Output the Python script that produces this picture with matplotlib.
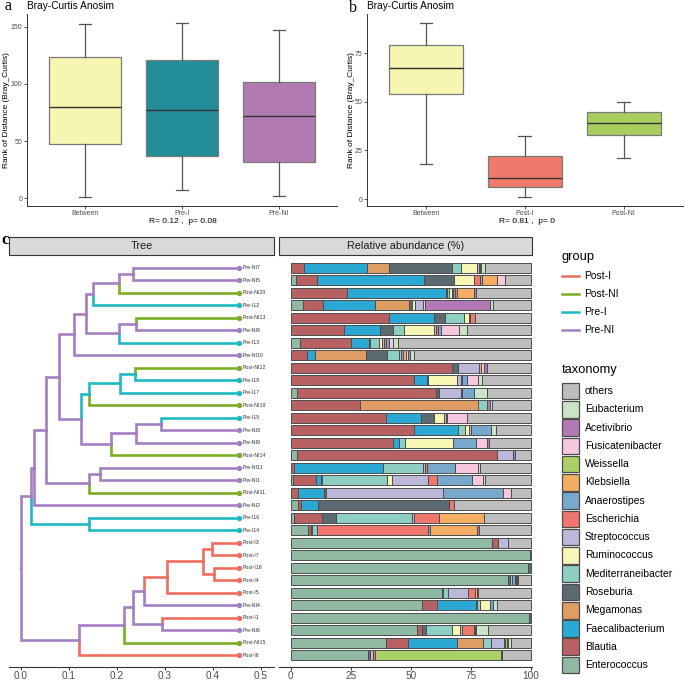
import matplotlib
matplotlib.use("Agg")
import matplotlib.pyplot as plt
import matplotlib.patches as patches
import numpy as np

plt.rcParams['font.family'] = ['Liberation Sans', 'DejaVu Sans']

W, H = 685, 681

# ---------------- panel a / b : ANOSIM boxes ----------------
a_labels = ['Between', 'Pre-I', 'Pre-NI']
a_low = [0.9, 7.0, 1.7]
a_q1 = [47.4, 37.2, 31.7]
a_med = [80.2, 77.3, 72.1]
a_q3 = [123.8, 121.2, 101.7]
a_high = [152.3, 153.5, 147.4]
a_colors = ['#F6F5B2', '#238E9A', '#B17AB3']
a_yticks = [0, 50, 100, 150]
a_stat = 'R= 0.12 ,  p= 0.08'

b_labels = ['Between', 'Post-I', 'Post-NI']
b_low = [18.0, 0.9, 20.9]
b_q1 = [54.1, 6.0, 33.0]
b_med = [67.3, 10.8, 39.0]
b_q3 = [79.3, 22.1, 45.0]
b_high = [90.8, 32.2, 50.2]
b_colors = ['#F6F5B2', '#EF7A6C', '#A6CE5E']
b_yticks = [0, 25, 50, 75]
b_stat = 'R= 0.81 ,  p= 0'

# ---------------- panel c : tree ----------------
leaves = ['Pre-NI7', 'Pre-NI5', 'Post-NI20', 'Pre-I12', 'Post-NI13', 'Pre-NI8',
          'Pre-I13', 'Pre-NI10', 'Post-NI12', 'Pre-I18', 'Pre-I17', 'Post-NI19',
          'Pre-I15', 'Pre-NI3', 'Pre-NI9', 'Post-NI14', 'Pre-NI11', 'Pre-NI1',
          'Post-NI11', 'Pre-NI2', 'Pre-I16', 'Pre-I14', 'Post-I3', 'Post-I7',
          'Post-I18', 'Post-I4', 'Post-I5', 'Pre-NI4', 'Post-I1', 'Pre-NI6',
          'Post-NI15', 'Post-I6']
leaf_height = 0.455

# (node, child1, child2, height, branch group)
nodes = [
    ('A', 'Pre-NI7', 'Pre-NI5', 0.234, 'Pre-NI'),
    ('B', 'A', 'Post-NI20', 0.205, 'Pre-NI'),
    ('C', 'B', 'Pre-I12', 0.151, 'Pre-NI'),
    ('D', 'Post-NI13', 'Pre-NI8', 0.240, 'Pre-NI'),
    ('E', 'D', 'Pre-I13', 0.205, 'Pre-NI'),
    ('F', 'C', 'E', 0.136, 'Pre-NI'),
    ('G', 'F', 'Pre-NI10', 0.111, 'Pre-NI'),
    ('H', 'Post-NI12', 'Pre-I18', 0.238, 'Pre-I'),
    ('I', 'H', 'Pre-I17', 0.207, 'Pre-I'),
    ('J', 'I', 'Post-NI19', 0.143, 'Pre-I'),
    ('K', 'Pre-I15', 'Pre-NI3', 0.291, 'Pre-NI'),
    ('L', 'K', 'Pre-NI9', 0.240, 'Pre-NI'),
    ('M', 'L', 'Post-NI14', 0.187, 'Pre-NI'),
    ('N', 'J', 'M', 0.125, 'Pre-NI'),
    ('O', 'G', 'N', 0.079, 'Pre-NI'),
    ('P', 'Pre-NI11', 'Pre-NI1', 0.164, 'Pre-NI'),
    ('Q', 'P', 'Post-NI11', 0.143, 'Pre-NI'),
    ('R', 'O', 'Q', 0.052, 'Pre-NI'),
    ('S', 'R', 'Pre-NI2', 0.027, 'Pre-NI'),
    ('T', 'Pre-I16', 'Pre-I14', 0.143, 'Pre-I'),
    ('U', 'S', 'T', 0.0215, 'Pre-NI'),
    ('V', 'Post-I3', 'Post-I7', 0.399, 'Post-I'),
    ('X', 'Post-I18', 'Post-I4', 0.403, 'Post-I'),
    ('Y', 'V', 'X', 0.379, 'Post-I'),
    ('Z', 'Y', 'Post-I5', 0.304, 'Post-I'),
    ('Z2', 'Z', 'Pre-NI4', 0.257, 'Pre-NI'),
    ('AA', 'Post-I1', 'Pre-NI6', 0.295, 'Pre-NI'),
    ('BB', 'Z2', 'AA', 0.234, 'Pre-NI'),
    ('CC', 'BB', 'Post-NI15', 0.214, 'Pre-NI'),
    ('DD', 'CC', 'Post-I6', 0.121, 'Pre-NI'),
    ('root', 'U', 'DD', 0.0, 'Pre-NI'),
]

group_names = ['Post-I', 'Post-NI', 'Pre-I', 'Pre-NI']
group_colors = {'Post-I': '#EE6F5F', 'Post-NI': '#7BAE26',
                'Pre-I': '#1EB9C1', 'Pre-NI': '#A47EC1'}

# ---------------- panel c : relative abundance ----------------
stack_order = ['Enterococcus', 'Blautia', 'Faecalibacterium', 'Megamonas', 'Roseburia',
               'Mediterraneibacter', 'Ruminococcus', 'Streptococcus', 'Escherichia',
               'Anaerostipes', 'Klebsiella', 'Weissella', 'Fusicatenibacter',
               'Acetivibrio', 'Eubacterium', 'others']
tax_colors = {
    'others': '#BEBEBE', 'Eubacterium': '#C9E5C5', 'Acetivibrio': '#B279B4',
    'Fusicatenibacter': '#F6C7DF', 'Weissella': '#AAD166', 'Klebsiella': '#F4AE64',
    'Anaerostipes': '#79A8CD', 'Escherichia': '#EF776D', 'Streptococcus': '#BCB8DA',
    'Ruminococcus': '#F7F6B5', 'Mediterraneibacter': '#8DCFC2', 'Roseburia': '#5B6A70',
    'Megamonas': '#DE9D63', 'Faecalibacterium': '#2BA8D4', 'Blautia': '#B86162',
    'Enterococcus': '#8FB9A2',
}

enterococcus = [0, 2.1, 0, 5.3, 0, 0, 3.9, 0, 0, 0, 2.8, 0, 0, 0, 0, 2.5,
                0, 1.1, 0, 2.9, 1.4, 7.4, 83.9, 99.8, 98.9, 90.6, 63.1, 54.5, 99.3, 52.4, 39.5, 32.3]
blautia = [5.5, 9.0, 23.6, 8.3, 41.1, 22.3, 21.1, 6.7, 67.3, 51.5, 57.6, 28.8, 39.5, 51.5, 42.7, 83.5,
           1.5, 9.3, 3.2, 1.4, 11.5, 1.0, 2.5, 0, 0, 0, 0, 6.2, 0, 2.1, 9.2, 0]
faecalibacterium = [26.4, 44.2, 40.9, 21.5, 18.6, 15.0, 7.6, 3.5, 0, 5.1, 0, 0, 14.6, 18.3, 2.5, 0,
                    37.0, 2.1, 10.7, 6.9, 0, 0, 0, 0, 0, 0, 0, 16.6, 0, 0, 20.7, 0]
megamonas = [9.2, 0, 0, 14.1, 0, 0, 0, 21.2, 0, 0, 0, 49.2, 0, 0, 0, 0,
             0, 0, 0, 0, 0, 0, 0, 0, 0, 0, 0, 0, 0, 0, 10.8, 0]
roseburia = [26.2, 12.8, 0.7, 1.2, 4.6, 5.1, 0.4, 8.9, 2.5, 0, 1.4, 0, 5.5, 0, 0, 0,
             0, 0.4, 0.7, 54.5, 5.8, 0.4, 0, 0, 1.1, 0.5, 0.4, 0.3, 0.7, 1.7, 0, 0.7]
mediterraneibacter = [3.5, 0, 0.6, 0, 8.0, 4.9, 3.9, 4.6, 0, 0.4, 0, 3.7, 0, 2.8, 2.4, 0,
                      16.4, 27.3, 0, 0, 31.9, 2.1, 0, 0, 0, 0, 2.1, 1.1, 0, 11.1, 3.1, 0]
ruminococcus = [6.9, 8.0, 1.2, 1.5, 2.1, 12.5, 1.2, 0, 0, 12.2, 0, 0, 4.2, 1.8, 19.9, 0,
                0, 2.1, 0, 0, 0, 0, 0, 0, 0, 0, 0, 4.2, 0, 3.2, 0, 0]
streptococcus = [0.6, 0, 0.7, 3.3, 0.4, 0.7, 0.9, 1.0, 8.6, 1.7, 9.0, 0, 0.7, 0.7, 0, 6.7,
                 1.2, 14.7, 48.8, 0, 0.7, 0, 3.9, 0, 0, 1.2, 8.3, 0, 0, 0.7, 5.5, 1.4]
escherichia = [0, 2.6, 0.6, 0, 2.0, 0.7, 0.6, 0, 0, 0.3, 0.7, 0, 0, 0, 0, 0,
               0.5, 4.0, 0, 2.1, 10.5, 46.2, 0, 0, 0, 0, 2.8, 0, 0, 5.1, 0, 0.7]
anaerostipes = [0.4, 1.1, 0.8, 0, 0, 1.4, 1.3, 0.7, 0, 2.1, 4.6, 0, 0.7, 8.2, 9.6, 0,
                11.8, 14.3, 25.1, 0, 0, 0.7, 0, 0, 0, 1.0, 0, 1.4, 0, 0, 0, 0]
klebsiella = [0, 5.9, 7.4, 0, 0, 0, 0, 1.2, 1.0, 0, 0, 0, 0, 0, 0, 0,
              0, 0, 0, 0, 18.6, 19.7, 0, 0, 0, 0, 0.7, 0, 0, 0, 0.4, 0]
weissella = [0, 0, 0, 0, 0, 0, 0, 0, 0, 0, 0, 0, 0, 0, 0, 0,
             0, 0, 0, 0, 0, 0, 0, 0, 0, 0, 0, 0, 0, 0, 0.7, 52.3]
fusicatenibacter = [0.6, 3.7, 0, 0.6, 0, 7.5, 1.5, 1.2, 1.2, 4.6, 0, 0, 8.0, 0, 4.7, 0,
                    9.4, 4.6, 3.2, 0, 0, 0, 0, 0, 0, 0.4, 0, 0, 0, 0.4, 0, 0]
acetivibrio = [0, 0, 0.8, 27.3, 0, 0, 0.4, 0.7, 1.0, 0, 0, 1.1, 0, 0, 0.8, 0.7,
               0, 0, 0, 0, 0, 0.7, 0.3, 0, 0, 0.5, 0.7, 0, 0, 0.4, 0.7, 0.7]
eubacterium = [1.4, 0, 0, 1.1, 0, 3.2, 1.7, 1.7, 0, 1.7, 5.7, 1.1, 0, 2.0, 0, 0,
               1.2, 1.0, 0, 0, 0, 0, 0, 0, 0, 0.5, 0, 1.4, 0, 5.1, 1.0, 0]
others = [19.3, 10.6, 22.7, 15.8, 23.2, 26.7, 55.5, 48.6, 18.4, 20.4, 18.2, 16.1, 26.8, 14.7, 17.4, 6.6,
          21.0, 19.1, 8.3, 32.2, 19.6, 21.8, 9.4, 0.2, 0, 5.3, 21.9, 14.3, 0, 17.8, 8.4, 11.9]

abundance = {
    'Enterococcus': enterococcus, 'Blautia': blautia, 'Faecalibacterium': faecalibacterium,
    'Megamonas': megamonas, 'Roseburia': roseburia, 'Mediterraneibacter': mediterraneibacter,
    'Ruminococcus': ruminococcus, 'Streptococcus': streptococcus, 'Escherichia': escherichia,
    'Anaerostipes': anaerostipes, 'Klebsiella': klebsiella, 'Weissella': weissella,
    'Fusicatenibacter': fusicatenibacter, 'Acetivibrio': acetivibrio,
    'Eubacterium': eubacterium, 'others': others,
}

TICK_GREY = '#4D4D4D'
LINE_GREY = '#333333'


def px_axes(fig, left, top, right, bottom):
    return fig.add_axes([left / W, 1 - bottom / H, (right - left) / W, (bottom - top) / H])


def fig_text(fig, x, y, s, **kw):
    fig.text(x / W, 1 - y / H, s, **kw)


def anosim_panel(ax, labels, low, q1, med, q3, high, colors, yticks, ylim):
    stats = [dict(whislo=l, q1=a, med=m, q3=b, whishi=h, fliers=[])
             for l, a, m, b, h in zip(low, q1, med, q3, high)]
    bp = ax.bxp(stats, positions=[1, 2, 3], widths=0.75, patch_artist=True,
                showfliers=False, capwidths=0.13,
                boxprops=dict(edgecolor='#7A7A7A', linewidth=0.9),
                medianprops=dict(color='#333333', linewidth=1.0),
                whiskerprops=dict(color='#555555', linewidth=0.9),
                capprops=dict(color='#555555', linewidth=0.9))
    for patch, c in zip(bp['boxes'], colors):
        patch.set_facecolor(c)
    ax.set_xlim(0.4, 3.6)
    ax.set_ylim(*ylim)
    ax.set_xticks([1, 2, 3])
    ax.set_xticklabels(labels)
    ax.set_yticks(yticks)
    for s in ['top', 'right']:
        ax.spines[s].set_visible(False)
    for s in ['left', 'bottom']:
        ax.spines[s].set_color(LINE_GREY)
        ax.spines[s].set_linewidth(0.7)
    ax.tick_params(length=2, width=0.6, color=LINE_GREY, labelsize=5,
                   labelcolor=TICK_GREY, pad=1.2)
    ax.set_facecolor('none')


fig = plt.figure(figsize=(W / 100, H / 100), dpi=100)

# ---- a
ax_a = px_axes(fig, 27, 14, 337, 206)
anosim_panel(ax_a, a_labels, a_low, a_q1, a_med, a_q3, a_high, a_colors, a_yticks, (-6.7, 161.1))
fig_text(fig, 27, 6, 'Bray-Curtis Anosim', fontsize=7.3, va='center', ha='left')
fig_text(fig, 7, 110, 'Rank of Distance (Bray_Curtis)', fontsize=6, rotation=90,
         va='center', ha='center')
fig_text(fig, 183, 221.5, a_stat, fontsize=6.0, va='center', ha='center')
fig_text(fig, 8, 10.5, 'a', fontsize=11.5, family='Liberation Serif', va='baseline', ha='center')

# ---- b
ax_b = px_axes(fig, 366.7, 14, 683, 206)
anosim_panel(ax_b, b_labels, b_low, b_q1, b_med, b_q3, b_high, b_colors, b_yticks, (-3.6, 95.3))
fig_text(fig, 367, 6, 'Bray-Curtis Anosim', fontsize=7.3, va='center', ha='left')
fig_text(fig, 351.5, 110, 'Rank of Distance (Bray_Curtis)', fontsize=6, rotation=90,
         va='center', ha='center')
fig_text(fig, 527, 221.5, b_stat, fontsize=6.0, va='center', ha='center')
fig_text(fig, 353, 12, 'b', fontsize=11.5, family='Liberation Serif', va='baseline', ha='center')

# ---- c : tree
ax_t = px_axes(fig, 9.3, 255, 274, 667)
n = len(leaves)
pos = {}
col = {}
for i, leaf in enumerate(leaves):
    pos[leaf] = (leaf_height, n - i)
    col[leaf] = group_colors[leaf.rstrip('0123456789')]
for name, c1, c2, h, g in nodes:
    pos[name] = (h, (pos[c1][1] + pos[c2][1]) / 2)
    col[name] = group_colors[g]
for name, c1, c2, h, g in nodes:
    y = pos[name][1]
    for ch in (c1, c2):
        cx, cy = pos[ch]
        ax_t.plot([h, h, cx], [y, cy, cy], color=col[ch], lw=1.9,
                  solid_joinstyle='miter', solid_capstyle='projecting')
for leaf in leaves:
    x, y = pos[leaf]
    ax_t.scatter(x, y, s=15, color=col[leaf], zorder=3, linewidths=0)
    ax_t.text(x + 0.006, y, leaf, fontsize=3.8, va='center', ha='left', color='#333333')
ax_t.set_xlim(-0.0237, 0.527)
ax_t.set_ylim(0.04, 33.02)
ax_t.set_xticks(np.arange(0, 0.51, 0.1))
ax_t.set_xticklabels(['%.1f' % v for v in np.arange(0, 0.51, 0.1)])
ax_t.set_yticks([])
for s in ['top', 'right', 'left']:
    ax_t.spines[s].set_visible(False)
ax_t.spines['bottom'].set_color(LINE_GREY)
ax_t.spines['bottom'].set_linewidth(0.8)
ax_t.tick_params(axis='x', length=2.2, width=0.7, color=LINE_GREY, labelsize=7.2,
                 labelcolor=TICK_GREY, pad=0.8)
ax_t.set_facecolor('none')

# ---- c : stacked bars
ax_r = px_axes(fig, 279.3, 255, 531.7, 667)
ypos = np.arange(n, 0, -1)
left = np.zeros(n)
for tax in stack_order:
    vals = np.array(abundance[tax], dtype=float)
    m = vals > 0
    ax_r.barh(ypos[m], vals[m], left=left[m], height=0.8, color=tax_colors[tax],
              edgecolor='#4D4D4D', linewidth=0.7)
    left += vals
ax_r.set_xlim(-4.7, 100.3)
ax_r.set_ylim(0.04, 33.02)
ax_r.set_xticks([0, 25, 50, 75, 100])
ax_r.set_yticks([])
for s in ['top', 'right', 'left']:
    ax_r.spines[s].set_visible(False)
ax_r.spines['bottom'].set_color(LINE_GREY)
ax_r.spines['bottom'].set_linewidth(0.8)
ax_r.tick_params(axis='x', length=2.2, width=0.7, color=LINE_GREY, labelsize=7.2,
                 labelcolor=TICK_GREY, pad=0.8)
ax_r.set_facecolor('none')

# ---- overlay: strips, legends, panel label
ov = fig.add_axes([0, 0, 1, 1])
ov.set_xlim(0, W)
ov.set_ylim(H, 0)
ov.axis('off')

for (l, r, label) in [(9.3, 274, 'Tree'), (279.3, 531.7, 'Relative abundance (%)')]:
    ov.add_patch(patches.Rectangle((l, 237), r - l, 18, facecolor='#D9D9D9',
                                   edgecolor=LINE_GREY, linewidth=0.8))
    ov.text((l + r) / 2, 246, label, fontsize=7.8, ha='center', va='center', color='#1A1A1A')
ov.text(5, 240, 'c', fontsize=12, family='Liberation Serif', ha='center', va='center',
        fontweight='bold')

ov.text(562, 257, 'group', fontsize=9.3, ha='left', va='center')
for i, g in enumerate(group_names):
    y = 276 + 18 * i
    ov.plot([562, 579], [y, y], color=group_colors[g], lw=1.8)
    ov.text(584, y, g, fontsize=7.5, ha='left', va='center')

ov.text(562, 370, 'taxonomy', fontsize=9.3, ha='left', va='center')
for i, tax in enumerate(stack_order[::-1]):
    y = 391 + 18.27 * i
    ov.add_patch(patches.Rectangle((562, y - 8.3), 17, 16.6, facecolor=tax_colors[tax],
                                   edgecolor='#4D4D4D', linewidth=0.9))
    ov.text(585, y, tax, fontsize=7.5, ha='left', va='center')

fig.savefig('out.png', dpi=100)
